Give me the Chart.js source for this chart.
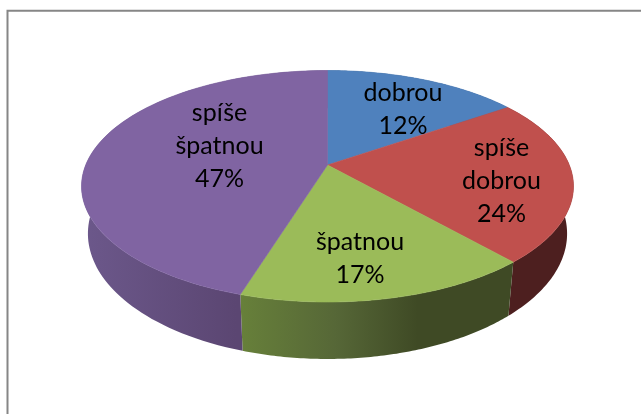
<!DOCTYPE html>
<html>
<head>
<meta charset="utf-8">
<style>html,body{margin:0;padding:0;background:#fff}canvas{display:block}</style>
<script src="https://cdn.jsdelivr.net/npm/chart.js@4"></script>
</head>
<body>
<canvas id="c" width="641" height="414"></canvas>
<script>
const categories = ['dobrou', 'spíše dobrou', 'špatnou', 'spíše špatnou'];
const percentages = [12, 24, 17, 47];
const faceColors = ['#4F81BD', '#C0504D', '#9BBB59', '#8064A2'];
const wallStops = [
  [[0, '#2F4D71'], [1, '#2F4D71']],
  [[0, '#4D1F1F'], [1, '#4D1F1F']],
  [[0, '#67803A'], [0.35, '#566737'], [0.65, '#3F4A25'], [1, '#3F4A25']],
  [[0, '#6C588B'], [0.63, '#5B4672'], [1, '#5B4672']]
];
const labelLines = [['dobrou'], ['spíše', 'dobrou'], ['špatnou'], ['spíše', 'špatnou']];
const labelCentres = [[403, 93], [501.5, 148], [360, 242], [219.5, 113]];

// Projection of the flat pie onto the tilted disc (Excel-style 3-D perspective)
const view = { cx: 327.5, cy: 165, halfW: 241.8, halfH: 111.85, tilt: 0.1836, wallScaleX: 0.974, wallScaleY: 1.083, wallDrop: 45.6 };
function skew(t) { // Excel's angular distortion of a 3-D pie, t measured clockwise from the top
  const d = 9.99 * Math.sin(t) + 4.44 * Math.sin(2 * t) + 3.40 * (1 - Math.cos(t));
  return t + d * Math.PI / 180;
}
function rimPoint(angle) {
  const t = skew(angle + Math.PI / 2);
  const u = Math.sin(t), v = -Math.cos(t);
  const w = 1 / (1 - view.tilt * v);
  return [view.cx + view.halfW * u * w, view.cy + view.halfH * v * w];
}
function lowerPoint(p) {
  return [view.cx + (p[0] - view.cx) * view.wallScaleX,
          view.cy + (p[1] - view.cy) * view.wallScaleY + view.wallDrop];
}
function sampleArc(arc) {
  const pts = [], n = 90;
  for (let i = 0; i <= n; i++) pts.push(rimPoint(arc.startAngle + (arc.endAngle - arc.startAngle) * i / n));
  return pts;
}

const tiltedPie = {
  id: 'tiltedPie',
  beforeDraw(chart) {
    const ctx = chart.ctx;
    ctx.save();
    ctx.strokeStyle = '#868686';
    ctx.lineWidth = 2;
    ctx.beginPath();
    ctx.moveTo(7.5, 414); ctx.lineTo(7.5, 10.8); ctx.lineTo(641, 10.8);
    ctx.stroke();
    ctx.restore();
  },
  beforeDatasetsDraw(chart) {
    const ctx = chart.ctx;
    const arcs = chart.getDatasetMeta(0).data;
    ctx.save();
    arcs.forEach((arc, i) => {
      const top = sampleArc(arc);
      const low = top.map(lowerPoint);
      const xs = top.map(p => p[0]);
      const g = ctx.createLinearGradient(Math.min(...xs), 0, Math.max(...xs), 0);
      wallStops[i].forEach(s => g.addColorStop(s[0], s[1]));
      ctx.fillStyle = g;
      ctx.beginPath();
      top.forEach((p, k) => k ? ctx.lineTo(p[0], p[1]) : ctx.moveTo(p[0], p[1]));
      low.slice().reverse().forEach(p => ctx.lineTo(p[0], p[1]));
      ctx.closePath();
      ctx.fill();
    });
    arcs.forEach(arc => {
      const top = sampleArc(arc);
      ctx.fillStyle = arc.options.backgroundColor;
      ctx.strokeStyle = arc.options.backgroundColor;
      ctx.lineWidth = 0.6;
      ctx.lineJoin = 'round';
      ctx.beginPath();
      ctx.moveTo(view.cx, view.cy);
      top.forEach(p => ctx.lineTo(p[0], p[1]));
      ctx.closePath();
      ctx.fill();
      ctx.stroke();
    });
    ctx.restore();
    return false;
  },
  afterDraw(chart) {
    const ctx = chart.ctx;
    ctx.save();
    ctx.fillStyle = '#000';
    ctx.font = '25px Lato';
    ctx.textAlign = 'center';
    ctx.textBaseline = 'middle';
    percentages.forEach((p, i) => {
      const lines = labelLines[i].concat(p + '%');
      lines.forEach((t, k) => ctx.fillText(t, labelCentres[i][0], labelCentres[i][1] + k * 33));
    });
    ctx.restore();
  }
};

new Chart(document.getElementById('c'), {
  type: 'pie',
  data: {
    labels: categories,
    datasets: [{ data: percentages, backgroundColor: faceColors, borderWidth: 0 }]
  },
  options: {
    responsive: false,
    animation: false,
    plugins: { legend: { display: false }, tooltip: { enabled: false } }
  },
  plugins: [tiltedPie]
});
</script>
</body>
</html>
